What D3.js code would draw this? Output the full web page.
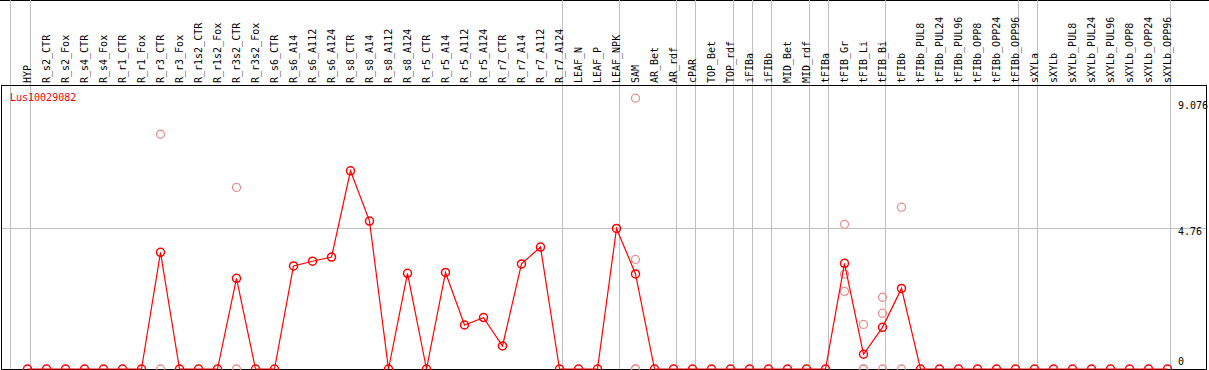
<!DOCTYPE html>
<html>
<head>
<meta charset="utf-8">
<script src="https://cdn.jsdelivr.net/npm/d3@7"></script>
<style>
  body { margin: 0; background: #fff; }
  svg { display: block; }
</style>
</head>
<body>
<div id="vis"></div>
<script>
const FRAME_WIDTH = 1209;
const FRAME_HEIGHT = 370;

const GENE = "Lus10029082";

const categories = ["HYP", "R_s2_CTR", "R_s2_Fox", "R_s4_CTR", "R_s4_Fox", "R_r1_CTR", "R_r1_Fox",
  "R_r3_CTR", "R_r3_Fox", "R_r1s2_CTR", "R_r1s2_Fox", "R_r3s2_CTR", "R_r3s2_Fox", "R_s6_CTR",
  "R_s6_A14", "R_s6_A112", "R_s6_A124", "R_s8_CTR", "R_s8_A14", "R_s8_A112", "R_s8_A124",
  "R_r5_CTR", "R_r5_A14", "R_r5_A112", "R_r5_A124", "R_r7_CTR", "R_r7_A14", "R_r7_A112",
  "R_r7_A124", "LEAF_N", "LEAF_P", "LEAF_NPK", "SAM", "AR_Bet", "AR_rdf", "cPAR", "TOP_Bet",
  "TOP_rdf", "iFIBa", "iFIBb", "MID_Bet", "MID_rdf", "tFIBa", "tFIB_Gr", "tFIB_Li", "tFIB_Bi",
  "tFIBb", "tFIBb_PUL8", "tFIBb_PUL24", "tFIBb_PUL96", "tFIBb_OPP8", "tFIBb_OPP24", "tFIBb_OPP96",
  "sXYLa", "sXYLb", "sXYLb_PUL8", "sXYLb_PUL24", "sXYLb_PUL96", "sXYLb_OPP8", "sXYLb_OPP24",
  "sXYLb_OPP96"];

// mean expression per sample
const meanValues = [0, 0, 0, 0, 0, 0, 0,
  3.95, 0, 0, 0, 3.07, 0, 0,
  3.49, 3.65, 3.79, 6.71, 5.01, 0, 3.24,
  0, 3.27, 1.49, 1.74, 0.78, 3.56, 4.13,
  0, 0, 0, 4.76, 3.22, 0, 0, 0, 0,
  0, 0, 0, 0, 0, 0, 3.58, 0.50, 1.41,
  2.73, 0, 0, 0, 0, 0, 0,
  0, 0, 0, 0, 0, 0, 0,
  0];

// individual replicates (light circles)
const repCategories = ["R_r3_CTR", "R_r3s2_CTR", "SAM", "tFIB_Gr", "tFIB_Li", "tFIB_Bi", "tFIBb"];
const repValues = [
  [7.95, 0],
  [6.15, 0],
  [9.17, 3.71, 0, 0],
  [4.90, 3.21, 2.63],
  [1.51, 0, 0],
  [2.43, 1.89, 0],
  [5.48, 0]
];

// last sample of each group, a grey separator goes after it
const groupEnds = ["HYP", "R_r7_A124", "LEAF_NPK", "AR_rdf", "cPAR", "TOP_rdf", "iFIBa", "iFIBb",
  "MID_rdf", "tFIBa", "tFIB_Bi", "tFIBb_OPP96", "sXYLa", "sXYLb_OPP96"];

const yTicks = [0, 4.76, 9.076];

const svg = d3.select("#vis")
  .append("svg")
  .attr("width", FRAME_WIDTH)
  .attr("height", FRAME_HEIGHT);

const FONT = "'DejaVu Sans Mono', monospace";

const x = d3.scaleBand()
  .domain(categories)
  .range([11.5, 1170.5])
  .padding(0);

const px = (c) => Math.round(x(c) + 15);

const y = d3.scaleLinear()
  .domain([0, 9.076])
  .range([369, 101]);

// top rule
svg.append("line")
  .attr("x1", 0).attr("x2", FRAME_WIDTH)
  .attr("y1", 0.5).attr("y2", 0.5)
  .attr("stroke", "black");

// vertical separators (full height)
const seps = [x("HYP") - 1].concat(groupEnds.map(c => x(c) + x.bandwidth()));
svg.append("g")
  .selectAll("line")
  .data(seps)
  .enter().append("line")
  .attr("x1", d => d).attr("x2", d => d)
  .attr("y1", 0).attr("y2", FRAME_HEIGHT)
  .attr("stroke", "#c0c0c0")
  .attr("stroke-width", 1);

// horizontal grid at middle tick
svg.append("line")
  .attr("x1", 1).attr("x2", 1207)
  .attr("y1", Math.round(y(4.76)) + 0.5).attr("y2", Math.round(y(4.76)) + 0.5)
  .attr("stroke", "#c0c0c0");

// plot box
svg.append("rect")
  .attr("x", 1.5).attr("y", 85.5)
  .attr("width", 1205).attr("height", 284)
  .attr("fill", "none")
  .attr("stroke", "black");

// sample labels
svg.append("g")
  .selectAll("text")
  .data(categories)
  .enter().append("text")
  .attr("transform", d => `translate(${px(d) + 3.5},83) rotate(-90)`)
  .attr("font-family", FONT)
  .attr("font-size", "10px")
  .attr("fill", "black")
  .text(d => d);

// y tick labels on the right
const tickOffset = {0: -4, 4.76: 7, 9.076: 8};
svg.append("g")
  .selectAll("text")
  .data(yTicks)
  .enter().append("text")
  .attr("x", 1178)
  .attr("y", d => Math.round(y(d)) + tickOffset[d])
  .attr("font-family", FONT)
  .attr("font-size", "10px")
  .attr("fill", "black")
  .text(d => d);

// gene name
svg.append("text")
  .attr("x", 10)
  .attr("y", 101)
  .attr("font-family", FONT)
  .attr("font-size", "10px")
  .attr("fill", "red")
  .text(GENE);

// replicate points
const reps = [];
repCategories.forEach((c, i) => {
  repValues[i].forEach(v => reps.push({cat: c, value: v}));
});

svg.append("g")
  .selectAll("circle")
  .data(reps)
  .enter().append("circle")
  .attr("cx", d => px(d.cat) + 0.5)
  .attr("cy", d => y(d.value))
  .attr("r", 4)
  .attr("fill", "none")
  .attr("stroke", "#e89090")
  .attr("stroke-width", 1.3);

// mean line
const data = categories.map((c, i) => ({cat: c, value: meanValues[i]}));

const line = d3.line()
  .x(d => px(d.cat) + 0.5)
  .y(d => y(d.value));

svg.append("path")
  .datum(data)
  .attr("d", line)
  .attr("fill", "none")
  .attr("stroke", "red")
  .attr("stroke-width", 1.2);

svg.append("g")
  .selectAll("circle")
  .data(data)
  .enter().append("circle")
  .attr("cx", d => px(d.cat) + 0.5)
  .attr("cy", d => y(d.value))
  .attr("r", 4)
  .attr("fill", "none")
  .attr("stroke", "red")
  .attr("stroke-width", 1.5);
</script>
</body>
</html>
